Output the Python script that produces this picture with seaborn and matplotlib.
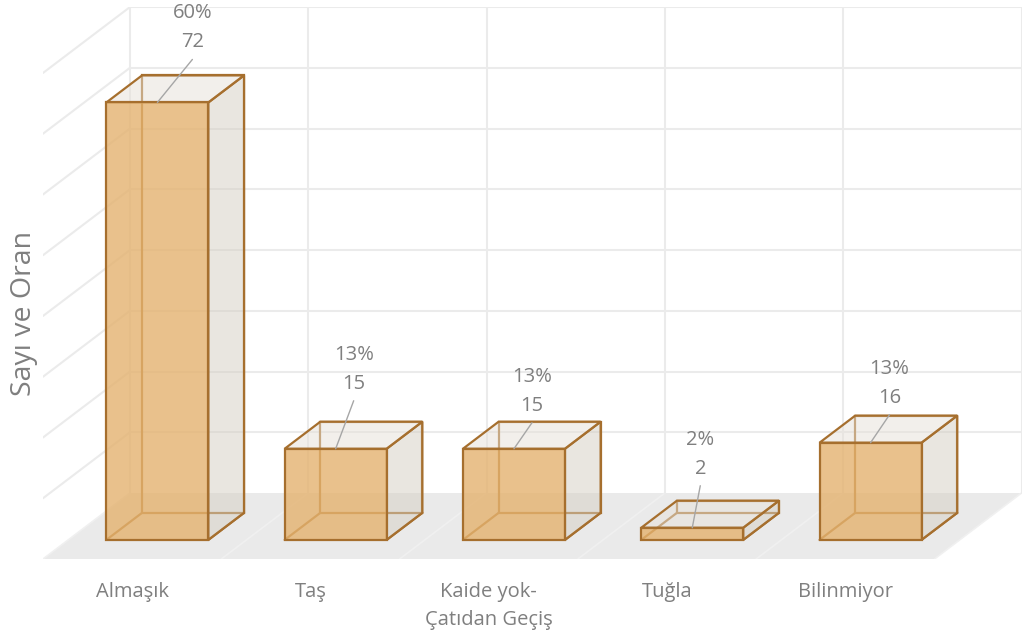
import matplotlib
matplotlib.use("Agg")
import matplotlib.pyplot as plt
import matplotlib.transforms as mtransforms
from matplotlib.patches import Polygon
import pandas as pd
import seaborn as sns

# ---- data ----
categories = ["Almaşık", "Taş", "Kaide yok-\nÇatıdan Geçiş", "Tuğla", "Bilinmiyor"]
counts = [72, 15, 15, 2, 16]
grid_values = [10, 20, 30, 40, 50, 60, 70, 80]
axis_title = "Sayı ve Oran"

# ---- label placement (pixel offsets of the value line from the bar's top edge) ----
label_dx = [35, 18, 18, 8, 19]
label_dy = [60, 65, 43, 59, 45]

# ---- style ----
FRONT = (0.894, 0.698, 0.435, 0.80)
SIDE = (0.835, 0.812, 0.765, 0.50)
TOP = (0.906, 0.882, 0.851, 0.50)
EDGE = "#A66F2E"
GRID = "#EBEBEB"
FLOOR = "#EAEAEA"
TEXT = "#7F7F7F"
LEADER = "#A6A6A6"

sns.set_theme(style="white")
plt.rcParams["font.family"] = ["Open Sans", "DejaVu Sans"]

fig = plt.figure(figsize=(10.24, 6.41), dpi=100)
ax = fig.add_axes([43 / 1024, 82 / 641, 978.5 / 1024, 552 / 641])

# oblique projection: depth d in [0, 1] shifts right and up
DX, DY = 0.488, 10.86
D0, D1 = 0.29, 0.70
BAR_W = 0.572
n = len(categories)


def proj(x, y, d):
    return (x + d * DX, y + d * DY)


# front faces of the bars
df = pd.DataFrame({"Kategori": categories, "Sayı": counts})
sns.barplot(data=df, x="Kategori", y="Sayı", ax=ax, width=BAR_W, color=FRONT[:3],
            saturation=1, edgecolor=EDGE, linewidth=1.6, zorder=4)
shift = mtransforms.Affine2D().translate(D0 * DX, D0 * DY) + ax.transData
for p in list(ax.patches):
    p.set_transform(shift)
    p.set_facecolor(FRONT)
    p.set_edgecolor(EDGE)

# floor
floor = Polygon([proj(-0.5, 0, 0), proj(n - 0.5, 0, 0), proj(n - 0.5, 0, 1), proj(-0.5, 0, 1)],
                closed=True, facecolor=FLOOR, edgecolor="none", zorder=0.5)
ax.add_patch(floor)
for b in range(n + 1):
    x = b - 0.5
    (xa, ya), (xb, yb) = proj(x, 0, 0), proj(x, 0, 1)
    ax.plot([xa, xb], [ya, yb], color="#F0F0F0", lw=1.2, zorder=0.6)

# back wall and side wall gridlines
for v in grid_values:
    (xa, ya), (xb, yb) = proj(-0.5, v, 1), proj(n - 0.5, v, 1)
    ax.plot([xa, xb], [ya, yb], color=GRID, lw=1.5, zorder=1)
    (xa, ya), (xb, yb) = proj(-0.5, v, 0), proj(-0.5, v, 1)
    ax.plot([xa, xb], [ya, yb], color=GRID, lw=1.5, zorder=1)
for b in range(n + 1):
    x = b - 0.5
    (xa, ya), (xb, yb) = proj(x, 0, 1), proj(x, grid_values[-1], 1)
    ax.plot([xa, xb], [ya, yb], color=GRID, lw=1.5, zorder=1)

# remaining faces and hidden edges of each box
for i, v in enumerate(counts):
    x0, x1 = i - BAR_W / 2, i + BAR_W / 2
    back = Polygon([proj(x0, 0, D1), proj(x1, 0, D1), proj(x1, v, D1), proj(x0, v, D1)],
                   closed=True, facecolor="none", edgecolor=EDGE, lw=1.6, zorder=2)
    ax.add_patch(back)
    for x in (x0, x1):
        (xa, ya), (xb, yb) = proj(x, 0, D0), proj(x, 0, D1)
        ax.plot([xa, xb], [ya, yb], color=EDGE, lw=1.6, zorder=2)
    side = Polygon([proj(x1, 0, D0), proj(x1, 0, D1), proj(x1, v, D1), proj(x1, v, D0)],
                   closed=True, facecolor=SIDE, edgecolor=EDGE, lw=1.6, zorder=3)
    top = Polygon([proj(x0, v, D0), proj(x1, v, D0), proj(x1, v, D1), proj(x0, v, D1)],
                  closed=True, facecolor=TOP, edgecolor=EDGE, lw=1.6, zorder=3)
    ax.add_patch(side)
    ax.add_patch(top)

# data labels: percentage and count with a leader line
total = sum(counts)
for i, v in enumerate(counts):
    pct = int(v * 100 / total + 0.5)
    anchor = proj(i, v, D0)
    dx, dy = label_dx[i], label_dy[i]
    ax.annotate("", xy=anchor, xytext=(dx, dy - 17), textcoords="offset pixels",
                arrowprops=dict(arrowstyle="-", color=LEADER, lw=1.0, shrinkA=0, shrinkB=0),
                zorder=5, annotation_clip=False)
    ax.annotate(f"{v}", xy=anchor, xytext=(dx, dy), textcoords="offset pixels",
                ha="center", va="center", fontsize=14.5, color=TEXT, zorder=6,
                annotation_clip=False)
    ax.annotate(f"{pct}%", xy=anchor, xytext=(dx, dy + 29), textcoords="offset pixels",
                ha="center", va="center", fontsize=14.5, color=TEXT, zorder=6,
                annotation_clip=False)

ax.set_xlim(-0.5, n - 0.5 + DX)
ax.set_ylim(0, grid_values[-1] + DY)
ax.set_xticks(range(n))
ax.set_xticklabels(categories)
for t in ax.get_xticklabels():
    t.set_linespacing(1.55)
ax.tick_params(axis="x", length=0, pad=16.5, labelsize=14.5, colors=TEXT)
ax.set_yticks([])
ax.set_xlabel("")
ax.set_ylabel(axis_title, fontsize=20.5, color=TEXT)
ax.yaxis.set_label_coords(-0.005, 0.444)
for s in ax.spines.values():
    s.set_visible(False)
ax.patch.set_alpha(0)

fig.savefig("out.png", dpi=100)
